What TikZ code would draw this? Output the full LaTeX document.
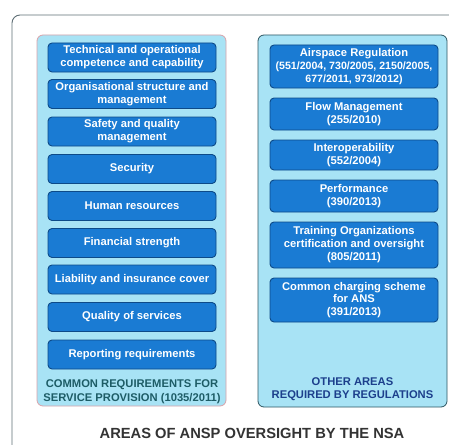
\documentclass[tikz,border=0pt]{standalone}
\usepackage{fontspec}
\setmainfont{Liberation Sans}
\usetikzlibrary{positioning}

\definecolor{panelfill}{HTML}{A8E3F5}
\definecolor{boxfill}{HTML}{1A7BD3}
\definecolor{boxedge}{HTML}{0D4A88}
\definecolor{capteal}{HTML}{1D5C66}
\definecolor{capblue}{HTML}{1C3F8C}
\definecolor{pinkedge}{HTML}{D9A3AA}
\definecolor{slateedge}{HTML}{2E5662}
\definecolor{frameline}{HTML}{5F6F76}

\newcommand{\regno}[1]{{\fontsize{10.6}{12.8}\selectfont #1}}

\tikzset{
    area/.style={draw=boxedge, line width=0.9pt, fill=boxfill, rounded corners=4pt,
        minimum width=168pt, text=white, align=center, inner sep=1pt,
        font=\bfseries\fontsize{11.2}{12.9}\selectfont},
    panel/.style={fill=panelfill, rounded corners=6pt, line width=0.8pt,
        minimum width=189pt, inner sep=0pt},
    caption/.style={align=center, font=\bfseries\fontsize{11.2}{13.6}\selectfont},
}

\begin{document}
\begin{tikzpicture}[x=1pt, y=-1pt]
    \clip (0,0) rectangle (449,444);
    \fill[white] (0,0) rectangle (449,444);

    % outer frame, runs off the page to the right and below
    \draw[frameline, line width=0.9pt, rounded corners=8pt] (12,15) rectangle (480,480);

    % the two panels
    \node[panel, draw=pinkedge, minimum height=371pt] (panelL) at (131.5, 220.5) {};
    \node[panel, draw=slateedge, minimum height=372pt] (panelR) at (352.5, 221) {};

    % common requirements
    \node[area, minimum height=29pt] (tech)      at (132, 57.5)  {Technical and operational\\competence and capability};
    \node[area, minimum height=29pt] (org)       at (132, 94)    {Organisational structure and\\management};
    \node[area, minimum height=29pt] (safety)    at (132, 131.5) {Safety and quality\\management};
    \node[area, minimum height=29pt] (security)  at (132, 169)   {Security};
    \node[area, minimum height=29pt] (human)     at (132, 206)   {Human resources};
    \node[area, minimum height=29pt] (finance)   at (132, 243)   {Financial strength};
    \node[area, minimum height=29pt] (liability) at (132, 279.5) {Liability and insurance cover};
    \node[area, minimum height=29pt] (quality)   at (132, 317)   {Quality of services};
    \node[area, minimum height=29pt] (reporting) at (132, 354.5) {Reporting requirements};

    \node[caption, text=capteal] (capL) at (132, 392) {COMMON REQUIREMENTS FOR\\SERVICE PROVISION (1035/2011)};

    % other areas
    \node[area, minimum height=43pt] (airspace) at (354, 66.5) {Airspace Regulation\\\regno{(551/2004, 730/2005, 2150/2005,}\\\regno{677/2011, 973/2012)}};
    \node[area, minimum height=32pt] (flow)     at (354, 114)  {Flow Management\\(255/2010)};
    \node[area, minimum height=30pt] (interop)  at (354, 155)  {Interoperability\\(552/2004)};
    \node[area, minimum height=32pt] (perf)     at (354, 196)  {Performance\\(390/2013)};
    \node[area, minimum height=46pt] (training) at (354, 245)  {Training Organizations\\certification and oversight\\(805/2011)};
    \node[area, minimum height=44pt] (charging) at (354, 300)  {Common charging scheme\\for ANS\\(391/2013)};

    \node[caption, text=capblue] (capR) at (352.5, 389) {OTHER AREAS\\REQUIRED BY REGULATIONS};

    \node[font=\bfseries\fontsize{14.7}{16}\selectfont, text=black!80] (title) at (252, 433) {AREAS OF ANSP OVERSIGHT BY THE NSA};
\end{tikzpicture}
\end{document}
